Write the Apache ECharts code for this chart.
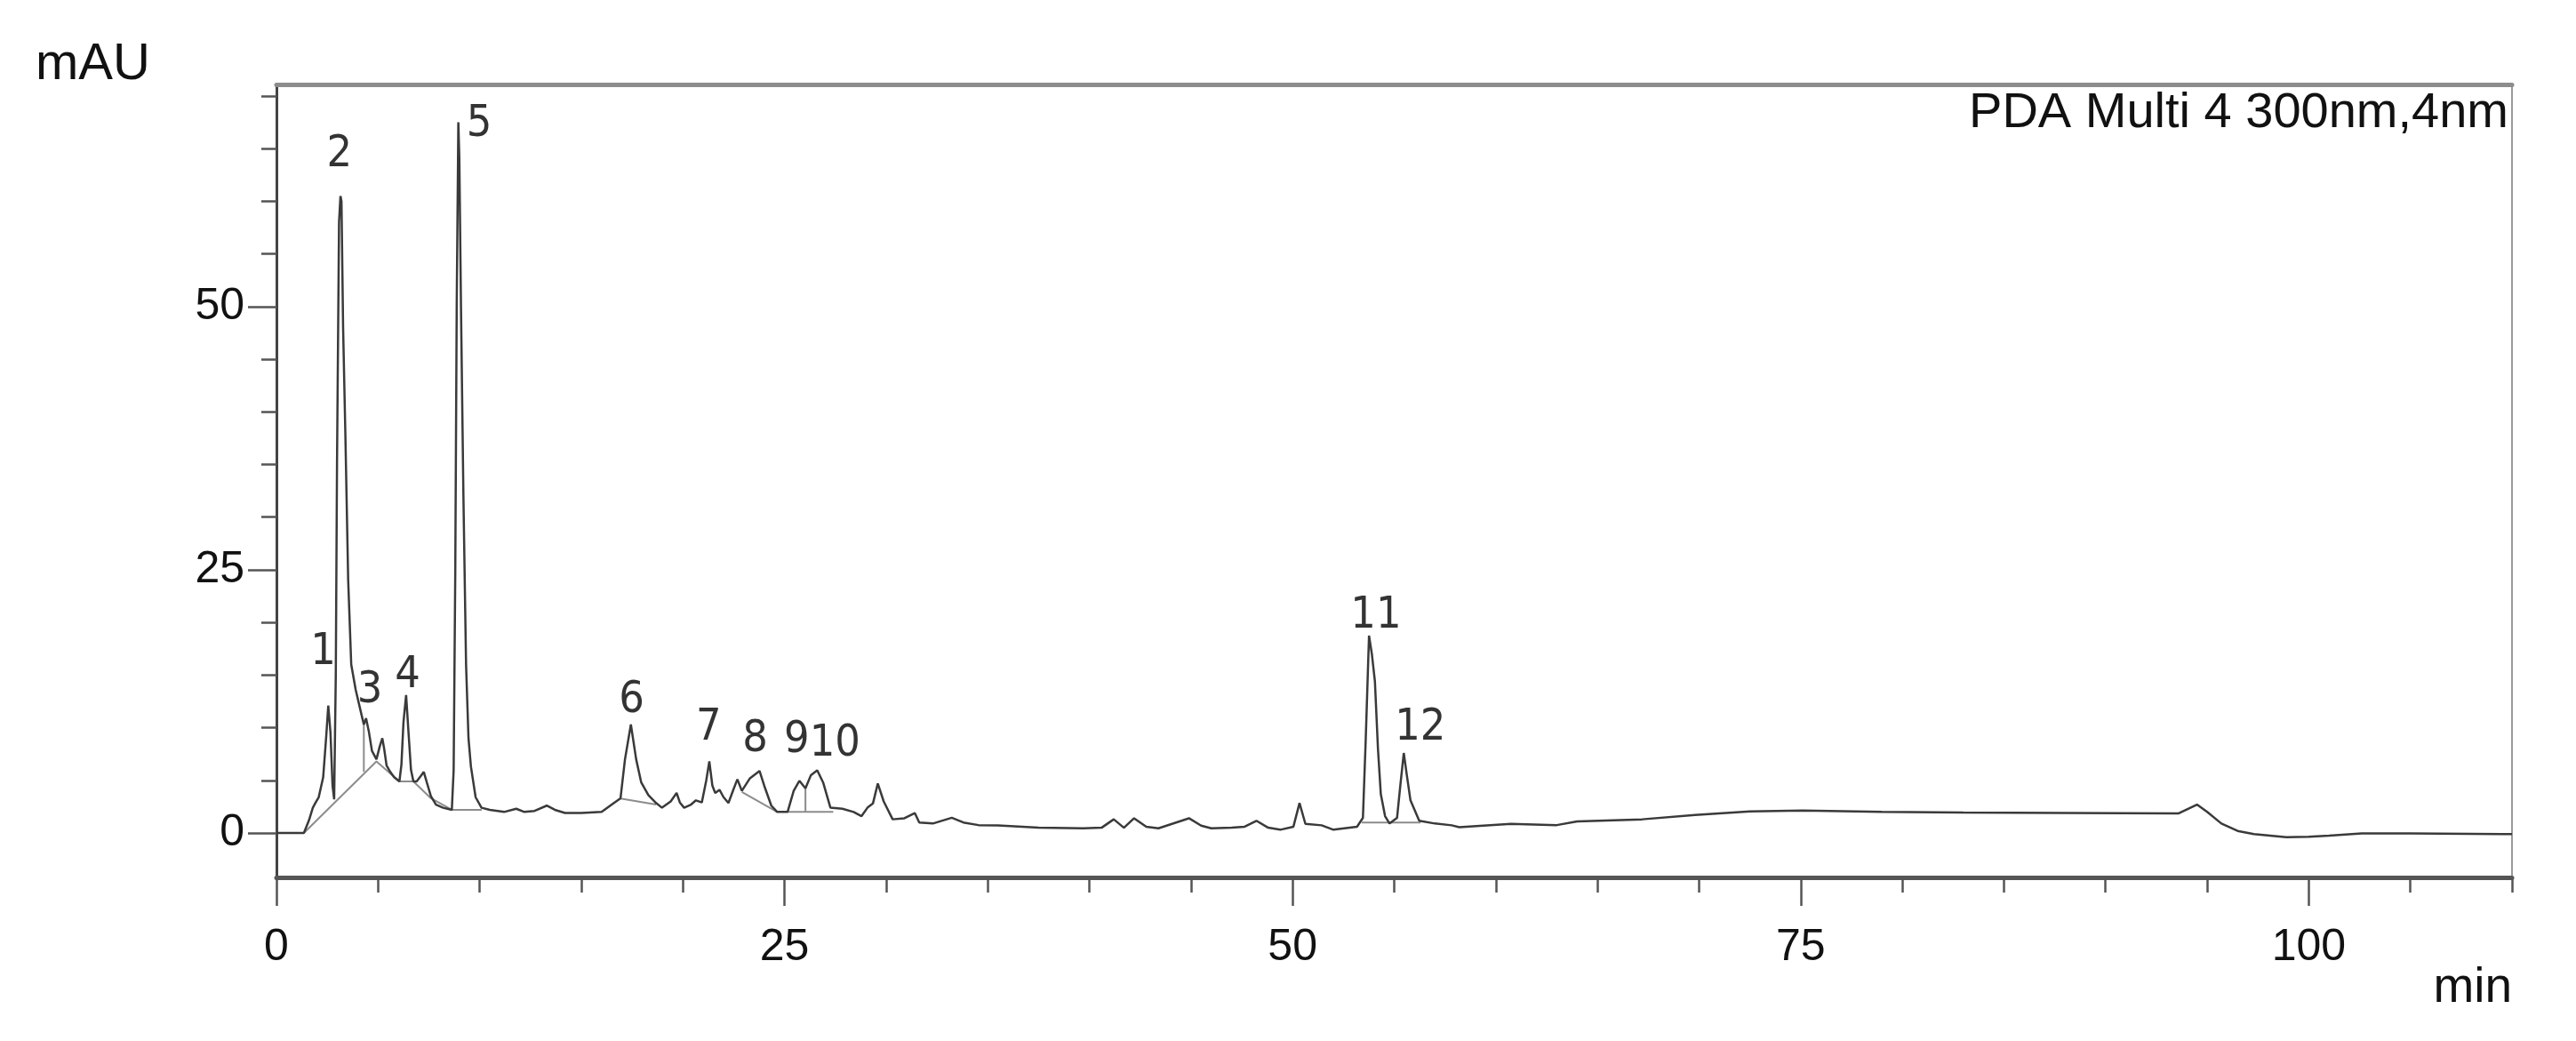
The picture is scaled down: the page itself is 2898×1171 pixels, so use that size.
<!DOCTYPE html>
<html>
<head>
<meta charset="utf-8">
<title>PDA Multi 4 300nm,4nm</title>
<script src="https://cdn.jsdelivr.net/npm/echarts@6/dist/echarts.min.js"></script>
<style>
  html, body { margin: 0; padding: 0; background: #fff; }
  #chart { width: 2898px; height: 1171px; }
</style>
</head>
<body>
<div id="chart"></div>
<script>
// chromatogram trace (min, mAU)
const traceTime = [
  0, 1.35, 1.6, 1.79, 1.93, 2.08, 2.3, 2.45, 2.55, 2.66, 2.76, 2.84,
  2.92, 2.98, 3.08, 3.15, 3.2, 3.28, 3.39, 3.53, 3.68, 3.9, 4.19, 4.3,
  4.41, 4.55, 4.7, 4.92, 5.08, 5.21, 5.3, 5.42, 5.6, 5.79, 6.05, 6.15,
  6.25, 6.38, 6.5, 6.62, 6.74, 6.9, 7.1, 7.25, 7.4, 7.6, 7.85, 8.2,
  8.63, 8.72, 8.8, 8.87, 8.95, 9.0, 9.08, 9.2, 9.33, 9.45, 9.57, 9.8,
  10.09, 10.5, 11.2, 11.8, 12.2, 12.7, 13.3, 13.7, 14.2, 15.0, 16.0, 16.5,
  16.93, 17.15, 17.44, 17.7, 17.95, 18.3, 18.68, 18.97, 19.4, 19.69, 19.85, 20.06,
  20.4, 20.64, 20.93, 21.15, 21.3, 21.45, 21.59, 21.8, 22.0, 22.24, 22.5, 22.68,
  22.9, 23.3, 23.77, 24.0, 24.35, 24.64, 25.15, 25.45, 25.73, 26.03, 26.3, 26.61,
  26.9, 27.26, 27.85, 28.4, 28.79, 29.08, 29.35, 29.59, 29.88, 30.32, 30.9, 31.41,
  31.63, 32.3, 33.23, 33.8, 34.54, 35.5, 37.5, 39.7, 40.6, 41.2, 41.7, 42.2,
  42.8, 43.4, 44.9, 45.5, 46.0, 47.0, 47.64, 48.22, 48.8, 49.39, 50.04, 50.34,
  50.63, 51.43, 52.01, 53.17, 53.46, 53.6, 53.76, 53.9, 54.05, 54.2, 54.34, 54.55,
  54.77, 55.14, 55.3, 55.47, 55.62, 55.8, 56.23, 57.0, 57.83, 58.2, 60.74, 63.0,
  64.0, 67.2, 69.8, 72.5, 75.1, 79.0, 83.0, 88.0, 93.6, 94.5, 95.0, 95.7,
  96.5, 97.3, 98.9, 100.0, 101.0, 102.6, 105.0, 109.5, 110
];
const traceMAU = [
  0, 0, 1.2, 2.4, 2.9, 3.4, 5.3, 9.2, 12.1, 9.5, 4.5, 3.2,
  15, 35, 58, 60.5, 60, 48, 38, 24, 16, 13.6, 11.2, 10.3,
  10.9, 9.6, 7.8, 7.0, 8.2, 9.0, 8.0, 6.4, 5.8, 5.3, 4.9, 6.5,
  10.5, 13.1, 9.5, 6.0, 4.9, 4.9, 5.4, 5.8, 4.8, 3.5, 2.7, 2.4,
  2.2, 6, 25, 50, 67.5, 64, 50, 32, 16, 9, 6.3, 3.4,
  2.4, 2.2, 2.0, 2.3, 2.0, 2.1, 2.6, 2.2, 1.9, 1.9, 2.0, 2.7,
  3.3, 7, 10.3, 7, 4.8, 3.6, 2.85, 2.4, 3.0, 3.8, 2.9, 2.4,
  2.7, 3.1, 2.9, 5, 6.8, 4.5, 3.8, 4.1, 3.4, 2.85, 4.2, 5.1,
  4.0, 5.2, 5.9, 4.5, 2.6, 2.0, 2.0, 4.0, 4.96, 4.25, 5.5, 5.95,
  4.8, 2.4, 2.3, 2.0, 1.6, 2.4, 2.8, 4.7, 3.0, 1.3, 1.4, 1.9,
  1.0, 0.9, 1.45, 1.0, 0.75, 0.73, 0.5, 0.45, 0.5, 1.3, 0.5, 1.4,
  0.6, 0.45, 1.4, 0.7, 0.45, 0.5, 0.6, 1.16, 0.5, 0.31, 0.6, 2.84,
  0.87, 0.73, 0.31, 0.59, 1.44, 9, 18.75, 17, 14.4, 8, 3.7, 1.6,
  0.9, 1.44, 4.5, 7.6, 5.5, 3.1, 1.16, 0.9, 0.73, 0.55, 0.87, 0.75,
  1.1, 1.3, 1.72, 2.05, 2.14, 2.0, 1.94, 1.9, 1.86, 2.7, 2.0, 0.9,
  0.2, -0.1, -0.4, -0.35, -0.25, -0.03, -0.05, -0.1, -0.1
];

// integration baselines and drop lines (null = break)
const baseTime = [1.35, 4.92, 6.05, 6.74, 7.6, 8.63, 10.1, null,
  4.3, 4.3, null,
  16.93, 18.68, null,
  22.9, 24.64, null,
  25.15, 27.4, null,
  26.03, 26.03, null,
  53.4, 56.3];
const baseMAU = [0, 6.8, 4.9, 4.9, 3.3, 2.2, 2.2, null,
  5.8, 10.3, null,
  3.27, 2.7, null,
  3.9, 2.0, null,
  2.0, 2.0, null,
  2.0, 4.25, null,
  1.0, 1.0];

// peak numbers and where they sit
const peakNames = ['1', '2', '3', '4', '5', '6', '7', '8', '9', '10', '11', '12'];
const peakLabelTime = [2.3, 3.1, 4.59, 6.45, 9.97, 17.48, 21.27, 23.55, 25.6, 27.48, 54.1, 56.28];
const peakLabelMAU = [17.1, 64.4, 13.5, 14.95, 67.3, 12.56, 10.0, 8.9, 8.76, 8.47, 20.6, 10.0];

// ticks
const xMajorTicks = [0, 25, 50, 75, 100];
const xMinorTicks = [5, 10, 15, 20, 30, 35, 40, 45, 55, 60, 65, 70, 80, 85, 90, 95, 105, 110];
const yMajorTicks = [0, 25, 50];
const yMinorTicks = [5, 10, 15, 20, 30, 35, 40, 45, 55, 60, 65, 70];

const xMin = 0, xMax = 110;
const yMin = -4.22, yMax = 71.1;

let myChart = echarts.init(document.getElementById('chart'))

const font = 'Liberation Sans'
const tickColor = '#555'

let option = {
  animation: false,
  grid: {
    left: 311, right: 72, top: 95, bottom: 184,
    show: true,
    borderColor: '#9a9a9a',
    borderWidth: 2
  },
  xAxis: [{
    type: 'value', min: xMin, max: xMax, position: 'bottom',
    axisLine: { show: true, onZero: false, lineStyle: { color: '#555', width: 5 } },
    axisTick: { show: true, customValues: xMajorTicks, length: 32, lineStyle: { color: tickColor, width: 2.5 } },
    axisLabel: { customValues: xMajorTicks, fontSize: 50, fontFamily: font, color: '#111', margin: 54 },
    splitLine: { show: false }
  }, {
    type: 'value', min: xMin, max: xMax, position: 'bottom',
    axisLine: { show: false, onZero: false },
    axisTick: { show: true, customValues: xMinorTicks, length: 17, lineStyle: { color: tickColor, width: 2.5 } },
    axisLabel: { show: false },
    splitLine: { show: false }
  }, {
    type: 'value', min: xMin, max: xMax, position: 'top',
    axisLine: { show: true, onZero: false, lineStyle: { color: '#8c8c8c', width: 5 } },
    axisTick: { show: false },
    axisLabel: { show: false },
    splitLine: { show: false }
  }],
  yAxis: [{
    type: 'value', min: yMin, max: yMax, position: 'left',
    axisLine: { show: true, onZero: false, lineStyle: { color: '#444', width: 3 } },
    axisTick: { show: true, customValues: yMajorTicks, length: 32, lineStyle: { color: tickColor, width: 2.5 } },
    axisLabel: { customValues: yMajorTicks, fontSize: 50, fontFamily: font, color: '#111', margin: 36 },
    splitLine: { show: false }
  }, {
    type: 'value', min: yMin, max: yMax, position: 'left',
    axisLine: { show: false, onZero: false },
    axisTick: { show: true, customValues: yMinorTicks, length: 17, lineStyle: { color: tickColor, width: 2.5 } },
    axisLabel: { show: false },
    splitLine: { show: false }
  }],
  graphic: [
    { type: 'text', left: 40, top: 44, style: { text: 'mAU', font: '58px "Liberation Sans"', fill: '#111' } },
    { type: 'text', right: 76, top: 100, style: { text: 'PDA Multi 4 300nm,4nm', font: '56px "Liberation Sans"', fill: '#111' } },
    { type: 'text', right: 72, top: 1084, style: { text: 'min', font: '55px "Liberation Sans"', fill: '#111' } }
  ],
  series: [
    {
      name: 'baseline',
      type: 'line',
      xAxisIndex: 0, yAxisIndex: 0,
      showSymbol: false,
      connectNulls: false,
      z: 2,
      lineStyle: { color: '#8c8c8c', width: 2 },
      data: baseTime.map((t, i) => t === null ? ['-', '-'] : [t, baseMAU[i]])
    },
    {
      name: 'PDA Multi 4',
      type: 'line',
      xAxisIndex: 0, yAxisIndex: 0,
      showSymbol: false,
      z: 3,
      lineStyle: { color: '#3a3a3a', width: 2.5 },
      data: traceTime.map((t, i) => [t, traceMAU[i]])
    },
    {
      name: 'peaks',
      type: 'scatter',
      xAxisIndex: 0, yAxisIndex: 0,
      symbolSize: 0,
      z: 4,
      label: {
        show: true,
        position: 'inside',
        formatter: (p) => p.name,
        fontSize: 50,
        fontFamily: 'DejaVu Sans Condensed',
        color: '#000'
      },
      data: peakNames.map((n, i) => ({ name: n, value: [peakLabelTime[i], peakLabelMAU[i]] }))
    }
  ]
};

myChart.setOption(option)
</script>
</body>
</html>
